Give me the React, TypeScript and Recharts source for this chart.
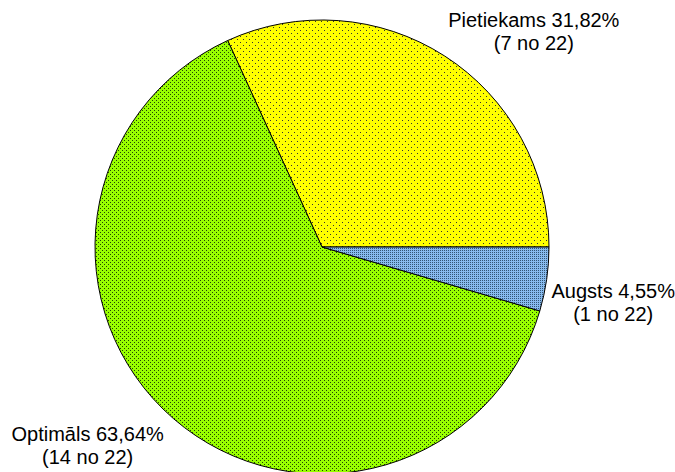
import React from 'react';
import { PieChart, Pie, Cell } from 'recharts';

const CATEGORIES = ['Pietiekams', 'Optimāls', 'Augsts'];
const COUNTS = [7, 14, 1];
const TOTAL = 22;
const FILLS = ['url(#dotYellow)', 'url(#dotGreen)', 'url(#dotBlue)'];

const data = CATEGORIES.map((name, i) => ({ name, value: COUNTS[i] }));

const RADIAN = Math.PI / 180;
const FONT = '"Liberation Sans", Arial, sans-serif';

const renderLabel = (props: any) => {
  const { cx, cy, midAngle, outerRadius, name, value } = props;
  const cos = Math.cos(-midAngle * RADIAN);
  const sin = Math.sin(-midAngle * RADIAN);
  const px = cx + (outerRadius + 6) * cos;
  const py = cy + (outerRadius + 6) * sin;
  const pct = ((value / TOTAL) * 100).toFixed(2).replace('.', ',');
  const line1 = `${name} ${pct}%`;
  const line2 = `(${value} no ${TOTAL})`;
  const half = line1.length * 5.05;
  const tx = cos >= 0 ? px + half : px - half - 6;
  const y1 = sin > 0 ? py + 18 : py - 24;
  return (
    <text x={tx} y={y1} textAnchor="middle" fontFamily={FONT} fontSize={20} fill="#000">
      <tspan x={tx} y={y1}>{line1}</tspan>
      <tspan x={tx} y={y1 + 23}>{line2}</tspan>
    </text>
  );
};

export default function App() {
  return (
    <div style={{ position: 'absolute', left: 0, top: 0, width: 675, height: 472, background: '#fff' }}>
      <PieChart width={675} height={472} margin={{ top: 0, right: 0, bottom: 0, left: 0 }}>
        <defs>
          <pattern id="dotYellow" width="6" height="6" patternUnits="userSpaceOnUse">
            <rect width="6" height="6" fill="#ffff00" />
            <rect x="0" y="0" width="1" height="1" fill="#333" />
            <rect x="3" y="3" width="1" height="1" fill="#333" />
          </pattern>
          <pattern id="dotGreen" width="4" height="4" patternUnits="userSpaceOnUse">
            <rect width="4" height="4" fill="#99ff00" />
            <rect x="0" y="0" width="1" height="1" fill="#224400" />
            <rect x="2" y="2" width="1" height="1" fill="#224400" />
          </pattern>
          <pattern id="dotBlue" width="2" height="2" patternUnits="userSpaceOnUse">
            <rect width="2" height="2" fill="#88bbee" />
            <rect x="0" y="0" width="1" height="1" fill="#335577" />
          </pattern>
        </defs>
        <Pie
          data={data}
          dataKey="value"
          nameKey="name"
          cx={322}
          cy={247}
          outerRadius={227}
          startAngle={0}
          endAngle={360}
          stroke="#000"
          strokeWidth={1}
          label={renderLabel}
          labelLine={false}
          isAnimationActive={false}
        >
          {data.map((entry, i) => (
            <Cell key={entry.name} fill={FILLS[i]} />
          ))}
        </Pie>
      </PieChart>
    </div>
  );
}
